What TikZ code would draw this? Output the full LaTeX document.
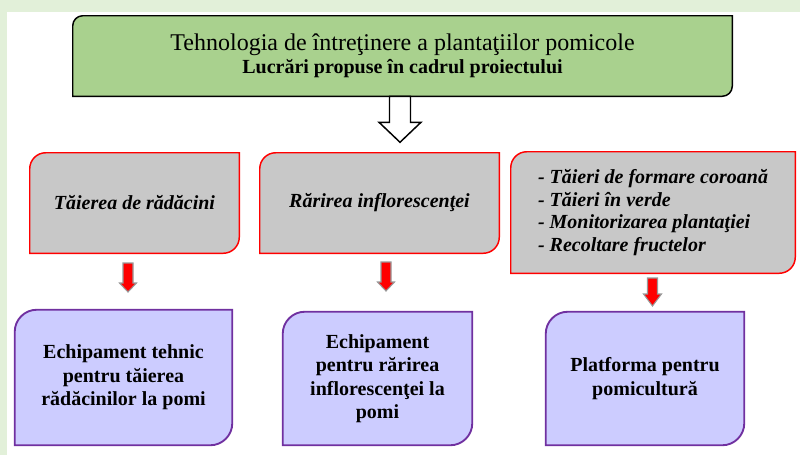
\documentclass[tikz,border=0pt]{standalone}
\usepackage{fontspec}
\setmainfont{LiberationSerif}[Extension=.ttf, UprightFont=*-Regular, BoldFont=*-Bold, ItalicFont=*-Italic, BoldItalicFont=*-BoldItalic]
\usetikzlibrary{calc,backgrounds}

\definecolor{pagegreen}{RGB}{226,240,217}
\definecolor{titlegreen}{RGB}{169,209,142}
\definecolor{taskgray}{RGB}{200,200,200}
\definecolor{toolviolet}{RGB}{204,204,255}
\definecolor{violetline}{RGB}{112,48,160}

% box with rounded top-left and bottom-right corners: node, radius, style
\newcommand{\diagbox}[3]{%
  \draw[#3] ($(#1.north west)+(0,#2)$) .. controls ($(#1.north west)+(0,#2*0.45)$) and ($(#1.north west)+(#2*0.45,0)$) .. ($(#1.north west)+(#2,0)$) -- (#1.north east) -- ($(#1.south east)+(0,-#2)$) .. controls ($(#1.south east)+(0,-#2*0.45)$) and ($(#1.south east)+(-#2*0.45,0)$) .. ($(#1.south east)+(-#2,0)$) -- (#1.south west) -- cycle;}
% block arrow pointing down: start, shaft half width, head half width, shaft length, length, style
\newcommand{\blockarrow}[6]{%
  \draw[#6] ($(#1)+(-#2,0)$) -- ($(#1)+(#2,0)$) -- ($(#1)+(#2,#4)$) -- ($(#1)+(#3,#4)$) -- ($(#1)+(0,#5)$) -- ($(#1)+(-#3,#4)$) -- ($(#1)+(-#2,#4)$) -- cycle;}

\begin{document}
\begin{tikzpicture}[x=0.75pt,y=0.75pt,yscale=-1,xscale=1,
  every node/.style={inner sep=0pt, align=center},
  titlebox/.style={minimum width=494.25pt, minimum height=60pt, font=\fontsize{15}{17.25}\selectfont},
  taskbox/.style={minimum height=75pt, font=\fontsize{15}{16.8}\selectfont\bfseries\itshape},
  toolbox/.style={minimum height=99.75pt, font=\fontsize{15}{17.6}\selectfont\bfseries},
  titleline/.style={draw=black, line width=1.1pt, fill=titlegreen},
  taskline/.style={draw=red, line width=1.1pt, fill=taskgray},
  toolline/.style={draw=violetline, line width=1.4pt, fill=toolviolet},
  redarrow/.style={draw=gray!80, line width=0.8pt, fill=red}]
\useasboundingbox (0,0) rectangle (800,455);

%Title
\node[titlebox] (title) at (402.5,56) {{\fontsize{18}{21}\selectfont Tehnologia de întreţinere a plantaţiilor pomicole}\\ \textbf{Lucrări propuse în cadrul proiectului}};

%Works
\node[taskbox, minimum width=156.75pt] (task1) at (134.5,203) {Tăierea de rădăcini};
\node[taskbox, minimum width=179.25pt] (task2) at (379.5,203) {Rărirea inflorescenţei};
\node[taskbox, minimum width=213pt, minimum height=90.75pt, align=left] (task3) at (653,212.5) {- Tăieri de formare coroană\\- Tăieri în verde\\- Monitorizarea plantaţiei\\- Recoltare fructelor};

%Equipment
\node[toolbox, minimum width=162.75pt, minimum height=101.25pt] (tool1) at (123.5,377.5) {Echipament tehnic\\pentru tăierea\\rădăcinilor la pomi};
\node[toolbox, minimum width=141.75pt] (tool2) at (377.5,378.5) {Echipament\\pentru rărirea\\inflorescenţei la\\pomi};
\node[toolbox, minimum width=148.5pt] (tool3) at (645,378.5) {Platforma pentru\\pomicultură};

\begin{pgfonlayer}{background}
\fill[pagegreen] (0,0) rectangle (800,455);
\fill[white] (7,12) rectangle (800,455);
\diagbox{title}{10}{titleline}
\diagbox{task1}{16}{taskline}
\diagbox{task2}{16}{taskline}
\diagbox{task3}{16}{taskline}
\diagbox{tool1}{22}{toolline}
\diagbox{tool2}{22}{toolline}
\diagbox{tool3}{22}{toolline}
\end{pgfonlayer}

%Arrows
\coordinate (h0) at ($(title.south)+(-2.5,0)$);
\coordinate (r1) at (128,263);
\coordinate (r2) at (386,262);
\coordinate (r3) at (652.5,278);
\blockarrow{h0}{10.5}{21}{26}{46}{draw=black, line width=1.1pt, fill=white}
\blockarrow{r1}{5}{8.5}{20}{29}{redarrow}
\blockarrow{r2}{5}{8.5}{20}{29}{redarrow}
\blockarrow{r3}{5}{9}{16}{28}{redarrow}

\end{tikzpicture}
\end{document}
